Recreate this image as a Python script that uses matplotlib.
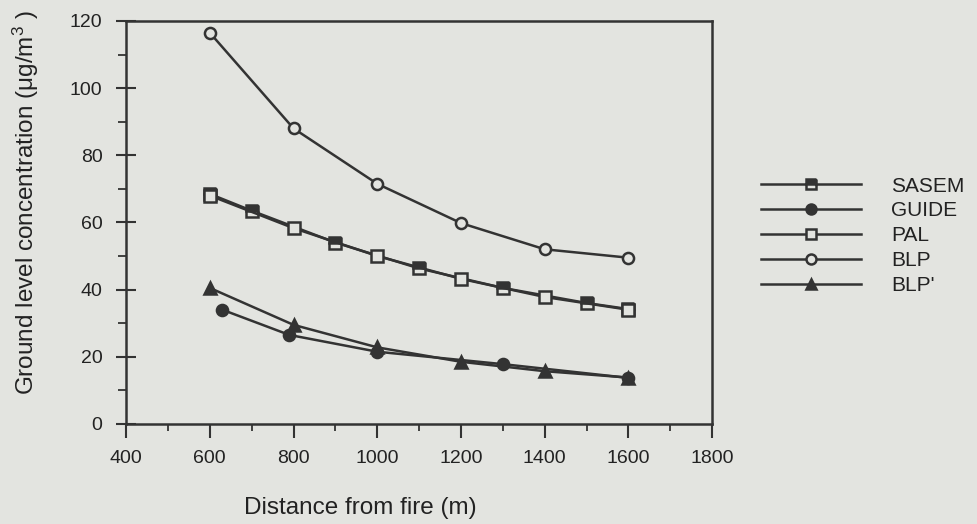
import matplotlib
matplotlib.use("Agg")
import matplotlib.pyplot as plt
from matplotlib.ticker import MultipleLocator

plt.rcParams['font.family'] = ['Liberation Sans', 'DejaVu Sans']

# values
blp_x = [600, 800, 1000, 1200, 1400, 1600]
blp_y = [116.5, 88, 71.5, 59.8, 52, 49.5]

sasem_x = [600, 700, 900, 1100, 1300, 1500, 1600]
sasem_y = [68.5, 63.5, 54, 46.3, 40.5, 36, 34.2]

pal_x = [600, 800, 1000, 1200, 1400, 1600]
pal_y = [68, 58.3, 50, 43.2, 37.8, 34]

guide_x = [630, 790, 1000, 1300, 1600]
guide_y = [34, 26.5, 21.5, 17.8, 13.7]

blpp_x = [600, 800, 1000, 1200, 1400, 1600]
blpp_y = [40.5, 29.5, 22.8, 18.5, 15.7, 13.8]

bg = '#e3e4e0'
ink = '#333333'

fig = plt.figure(figsize=(9.77, 5.24), dpi=100, facecolor=bg)
ax = fig.add_axes([0.129, 0.191, 0.6, 0.769])
ax.set_facecolor(bg)

kw = dict(color=ink, lw=1.8, markersize=8, markeredgewidth=1.8)
ax.plot(sasem_x, sasem_y, marker='s', fillstyle='top', markerfacecolor=ink,
        markerfacecoloralt=bg, label='SASEM', **kw)
ax.plot(guide_x, guide_y, marker='o', markerfacecolor=ink, label='GUIDE', **kw)
ax.plot(pal_x, pal_y, marker='s', markerfacecolor=bg, label='PAL', **kw)
ax.plot(blp_x, blp_y, marker='o', markerfacecolor=bg, label='BLP', **kw)
ax.plot(blpp_x, blpp_y, marker='^', markerfacecolor=ink, label="BLP'", **kw)

ax.set_xlim(400, 1800)
ax.set_ylim(0, 120)
ax.xaxis.set_major_locator(MultipleLocator(200))
ax.xaxis.set_minor_locator(MultipleLocator(100))
ax.yaxis.set_major_locator(MultipleLocator(20))
ax.yaxis.set_minor_locator(MultipleLocator(10))
ax.tick_params(axis='both', which='major', colors=ink, width=1.5,
               labelsize=14, labelcolor='#222222')
ax.tick_params(axis='x', which='major', direction='out', length=10, pad=9)
ax.tick_params(axis='x', which='minor', direction='out', length=5, width=1.3, colors=ink)
ax.tick_params(axis='y', which='major', direction='inout', length=14, pad=10)
ax.tick_params(axis='y', which='minor', direction='out', length=6, width=1.3, colors=ink)
for s in ax.spines.values():
    s.set_color(ink)
    s.set_linewidth(1.8)

ax.set_xlabel('Distance from fire (m)', fontsize=17.5, color='#222222')
ax.xaxis.set_label_coords(0.40, -0.182)
ax.set_ylabel(r'Ground level concentration ($\mathregular{\mu g/m^3}$ )', fontsize=17.5,
              color='#222222')
ax.yaxis.set_label_coords(-0.145, 0.55)

leg = ax.legend(loc='center left', bbox_to_anchor=(0.768, 0.55),
                bbox_transform=fig.transFigure, frameon=False, fontsize=15,
                handlelength=4.8, handletextpad=1.45, labelspacing=0.28,
                borderpad=0, markerscale=0.9)
for t in leg.get_texts():
    t.set_color('#222222')

fig.savefig('out.png', dpi=100, facecolor=bg)
